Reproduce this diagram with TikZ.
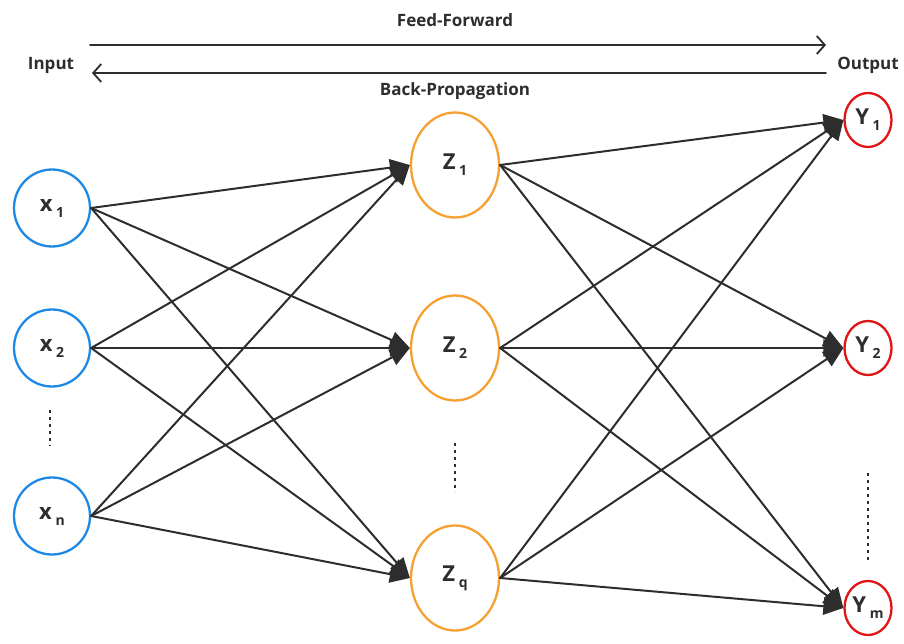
\documentclass[tikz,border=0pt]{standalone}
\usepackage{fontspec}
\setmainfont{Open Sans}
\usetikzlibrary{arrows.meta}
\usetikzlibrary{shapes.geometric}

\definecolor{inblue}{RGB}{30,136,229}
\definecolor{hidorange}{RGB}{245,160,50}
\definecolor{outred}{RGB}{225,20,20}
\definecolor{edgegray}{RGB}{45,45,45}

\newcommand{\lowsub}[1]{\,\raisebox{-0.5ex}{\fontsize{14}{14}\selectfont #1}}

\begin{document}
\begin{tikzpicture}[x=1pt, y=-1pt, line cap=round,
    neuron/.style={ellipse, line width=2.3pt, inner sep=0pt, text=edgegray,
        font=\fontsize{22}{22}\selectfont\bfseries},
    innode/.style={neuron, draw=inblue, minimum width=76pt, minimum height=77pt},
    hidnode/.style={neuron, draw=hidorange, minimum width=88pt, minimum height=105pt},
    outnode/.style={neuron, draw=outred, minimum width=47pt, minimum height=54pt},
    link/.style={draw=edgegray, line width=2pt, -{Triangle[length=20pt, width=17pt]}},
    flow/.style={draw=edgegray, line width=1.8pt, -{Straight Barb[length=8pt, width=18pt]}},
    dots/.style={draw=edgegray, line width=2.8pt, line cap=butt, dash pattern=on 2.8pt off 4.2pt},
    caption/.style={text=edgegray, font=\fontsize{17}{17}\selectfont\bfseries}]
    % frame
    \useasboundingbox (0,0) rectangle (904,644);

    % direction arrows
    \coordinate (ffstart) at (90,45);
    \coordinate (ffend) at (826,45);
    \coordinate (bpstart) at (826,73);
    \coordinate (bpend) at (92,73);
    \draw[flow] (ffstart) -- (ffend);
    \draw[flow] (bpstart) -- (bpend);
    \node[caption] (ff) at (455,20) {Feed-Forward};
    \node[caption] (bp) at (455,91) {Back-Propagation};
    \node[caption] (input) at (51,65) {Input};
    \node[caption] (output) at (868,65) {Output};

    % input layer
    \node[innode] (x1) at (52,208) {x\lowsub{1}};
    \node[innode] (x2) at (52,348) {x\lowsub{2}};
    \node[innode] (xn) at (52,516) {x\lowsub{n}};
    \coordinate (xdtop) at (50,410);
    \coordinate (xdbot) at (50,446);
    \draw[dots] (xdtop) -- (xdbot);

    % hidden layer
    \node[hidnode] (z1) at (455,165) {Z\lowsub{1}};
    \node[hidnode] (z2) at (455,348) {Z\lowsub{2}};
    \node[hidnode] (zq) at (455,578) {Z\lowsub{q}};
    \coordinate (zdtop) at (455,443);
    \coordinate (zdbot) at (455,492);
    \draw[dots] (zdtop) -- (zdbot);

    % output layer
    \node[outnode] (y1) at (868,120) {Y\lowsub{1}};
    \node[outnode] (y2) at (868,348) {Y\lowsub{2}};
    \node[outnode] (ym) at (868,608) {Y\lowsub{m}};
    \coordinate (ydtop) at (868,473);
    \coordinate (ydbot) at (868,562);
    \draw[dots] (ydtop) -- (ydbot);

    % input -> hidden
    \draw[link] (x1.east) -- (z1.west);
    \draw[link] (x1.east) -- (z2.west);
    \draw[link] (x1.east) -- (zq.west);
    \draw[link] (x2.east) -- (z1.west);
    \draw[link] (x2.east) -- (z2.west);
    \draw[link] (x2.east) -- (zq.west);
    \draw[link] (xn.east) -- (z1.west);
    \draw[link] (xn.east) -- (z2.west);
    \draw[link] (xn.east) -- (zq.west);

    % hidden -> output
    \draw[link] (z1.east) -- (y1.west);
    \draw[link] (z1.east) -- (y2.west);
    \draw[link] (z1.east) -- (ym.west);
    \draw[link] (z2.east) -- (y1.west);
    \draw[link] (z2.east) -- (y2.west);
    \draw[link] (z2.east) -- (ym.west);
    \draw[link] (zq.east) -- (y1.west);
    \draw[link] (zq.east) -- (y2.west);
    \draw[link] (zq.east) -- (ym.west);
\end{tikzpicture}
\end{document}
